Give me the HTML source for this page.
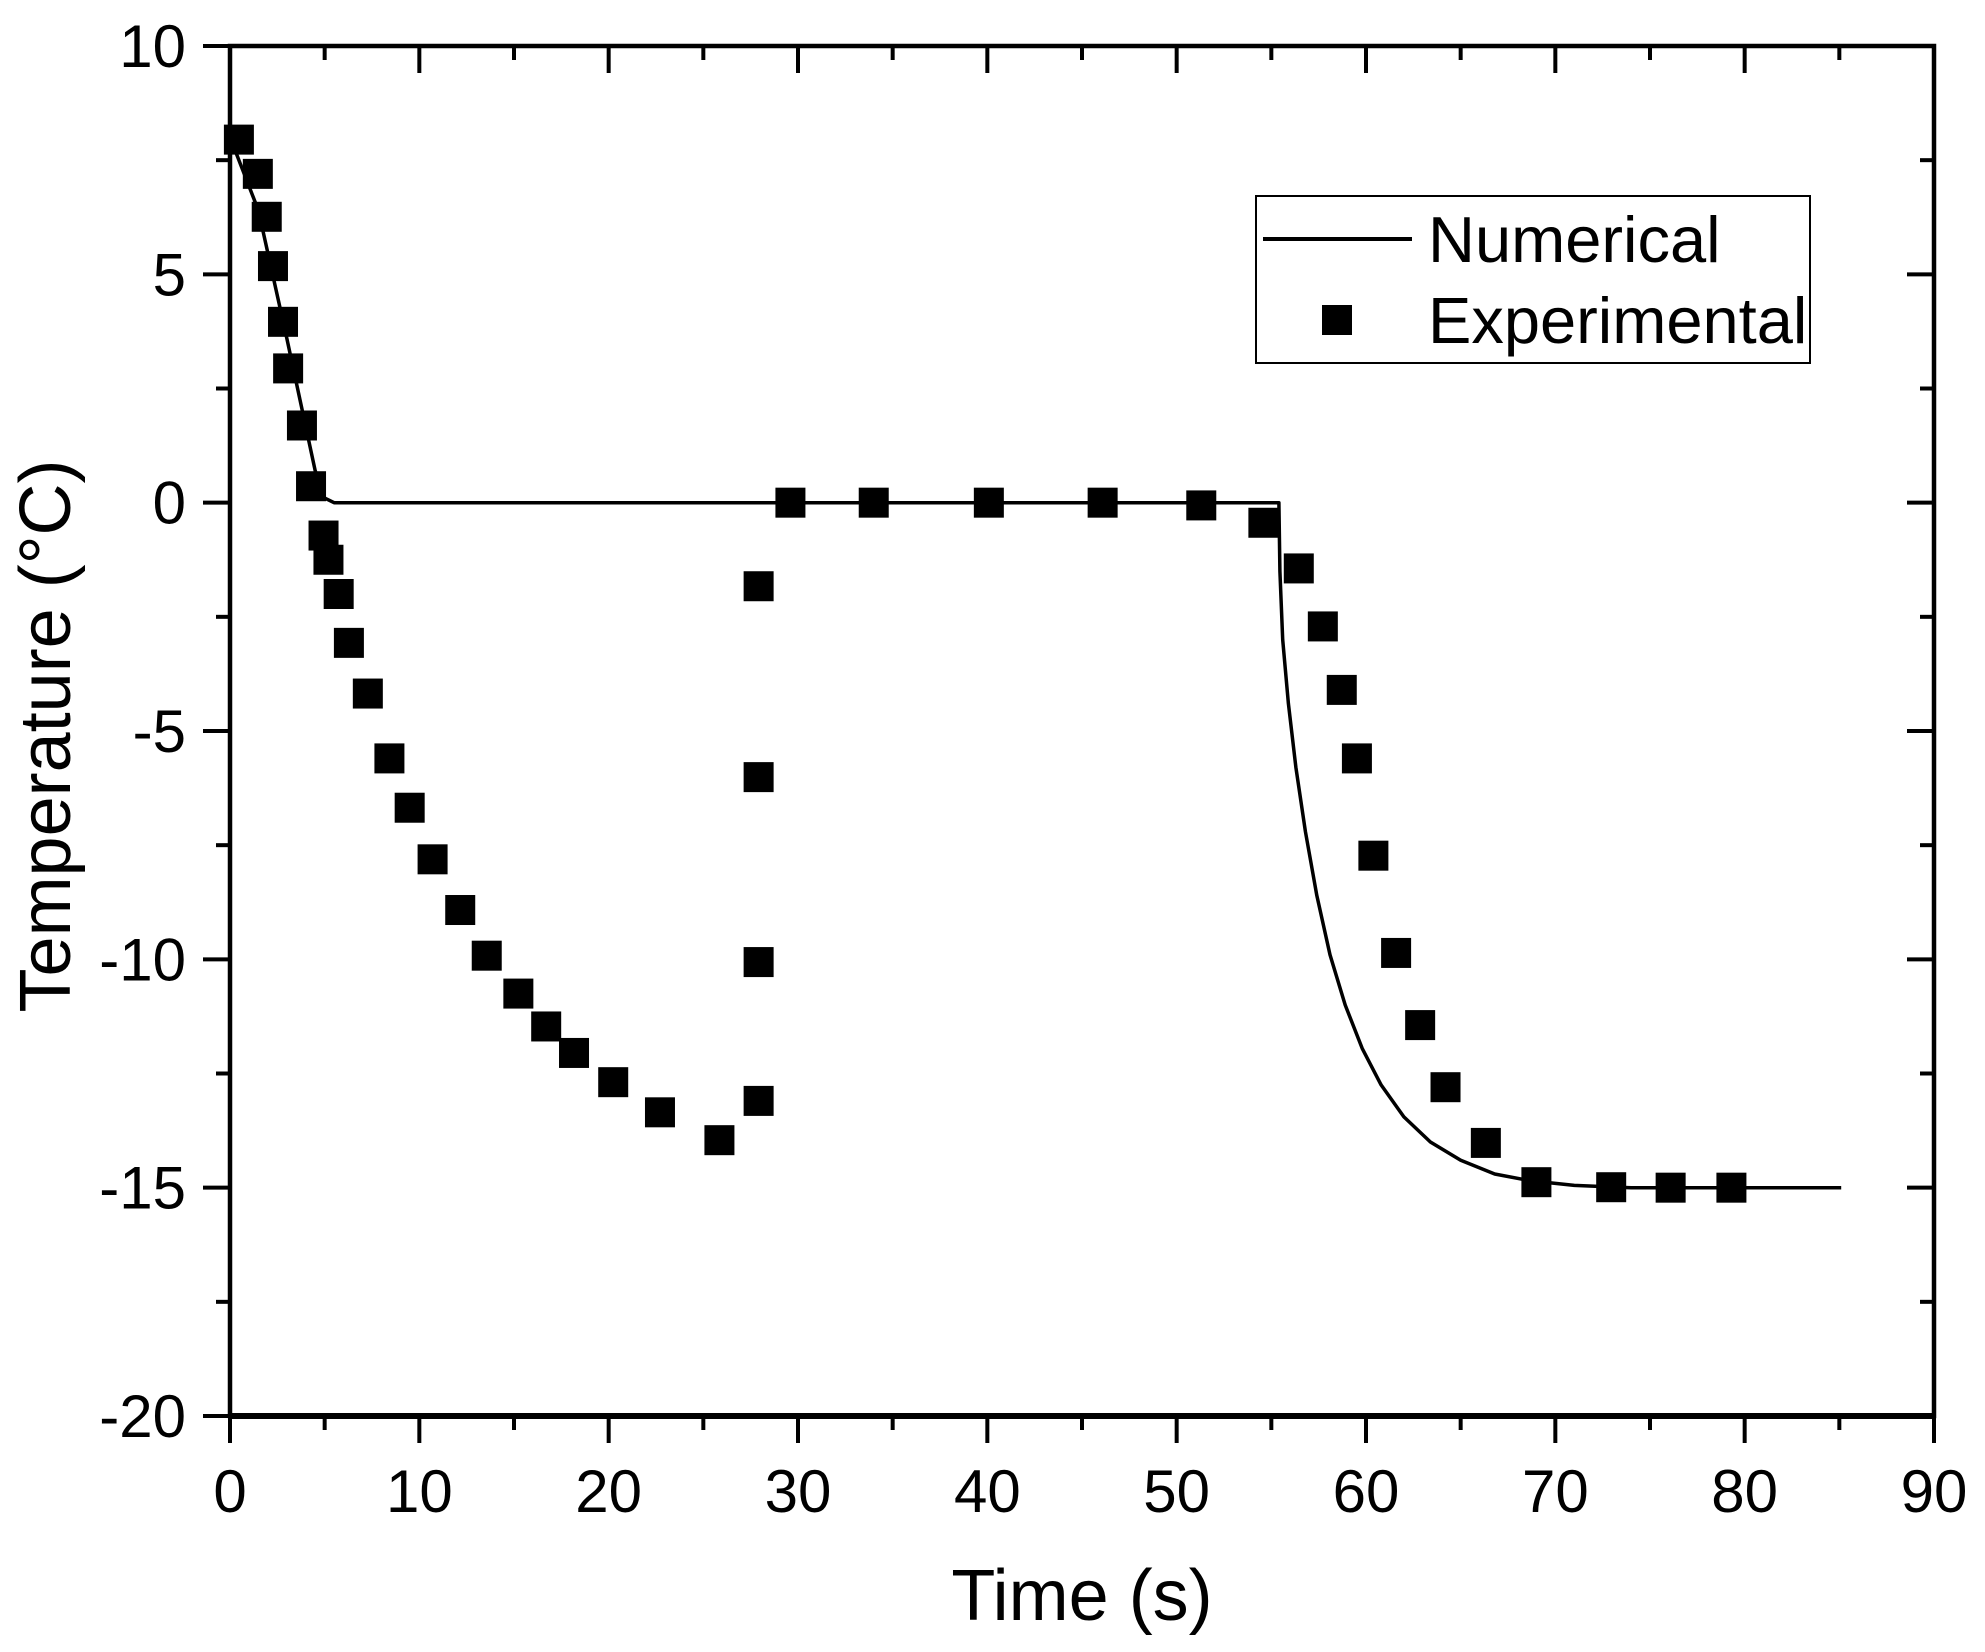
<!DOCTYPE html>
<html><head><meta charset="utf-8"><style>
html,body{margin:0;padding:0;background:#fff;}
svg{display:block;font-family:"Liberation Sans",Arial,sans-serif;}
</style></head><body>
<svg id="chart" width="1985" height="1652" viewBox="0 0 1985 1652" xmlns="http://www.w3.org/2000/svg">
<rect width="1985" height="1652" fill="#fff"/>
<g id="marks"></g>
<g id="axes"></g>
</svg>
<script>
const xTicks=[0,10,20,30,40,50,60,70,80,90];
const yTicks=[10,5,0,-5,-10,-15,-20];
const numT=[0,1.5,3,4.5,5,5.5,55.4,55.45,55.6,55.9,56.3,56.8,57.4,58.1,58.9,59.8,60.8,62.0,63.4,65.0,66.8,68.7,71.0,74.0,85.1];
const numV=[8,6.4,3.6,0.7,0.1,0,0,-1.5,-3.0,-4.4,-5.8,-7.2,-8.6,-9.9,-11.0,-11.95,-12.75,-13.45,-14.0,-14.4,-14.7,-14.85,-14.95,-15,-15];
const expT=[0.47,1.47,1.94,2.27,2.8,3.07,3.8,4.28,4.94,5.2,5.74,6.28,7.28,8.42,9.49,10.7,12.16,13.56,15.23,16.7,18.17,20.24,22.71,25.85,27.92,27.92,27.92,27.92,29.6,34.0,40.08,46.09,51.3,54.58,56.45,57.72,58.72,59.52,60.39,61.59,62.86,64.2,66.33,69.0,72.95,76.09,79.3];
const expV=[7.95,7.2,6.26,5.18,3.96,2.94,1.69,0.36,-0.72,-1.25,-2.0,-3.07,-4.18,-5.6,-6.68,-7.81,-8.92,-9.92,-10.75,-11.47,-12.05,-12.69,-13.35,-13.96,-13.1,-10.06,-6.01,-1.83,0,0,0,0,-0.06,-0.44,-1.44,-2.71,-4.1,-5.6,-7.73,-9.86,-11.44,-12.8,-14.02,-14.88,-14.99,-15,-15];

const X0=230,X1=1934,Y0=1416,Y1=46;
const xs=t=>X0+(t-0)/90*(X1-X0);
const ys=v=>Y0-(v+20)/30*(Y0-Y1);
const NS="http://www.w3.org/2000/svg";
function mk(tag,attrs,parent){const e=document.createElementNS(NS,tag);for(const k in attrs)e.setAttribute(k,attrs[k]);parent.appendChild(e);return e;}
const marks=document.getElementById('marks'),axes=document.getElementById('axes');

let d='';numT.forEach((t,i)=>{d+=(i?'L':'M')+xs(t).toFixed(1)+' '+ys(numV[i]).toFixed(1);});
const line=mk('path',{d:d,fill:'none',stroke:'#000','stroke-width':3.5,'stroke-linejoin':'round'},marks);


expT.forEach((t,i)=>{
  const r=mk('rect',{x:xs(t)-15,y:ys(expV[i])-15,width:30,height:30,fill:'#000'},marks);
  
  
});

const frame=mk('rect',{x:X0,y:Y1,width:X1-X0,height:Y0-Y1,fill:'none',stroke:'#000','stroke-width':4.5},axes);


mk('line',{x1:X0-2,y1:Y0,x2:X1+2,y2:Y0,stroke:'#000','stroke-width':6},axes);

for(let t=0;t<=90;t+=5){
  const major=t%10===0, L=major?27:14, x=xs(t);
  mk('line',{x1:x,y1:Y0,x2:x,y2:Y0+L,stroke:'#000','stroke-width':4},axes);
  mk('line',{x1:x,y1:Y1,x2:x,y2:Y1+L,stroke:'#000','stroke-width':4},axes);
}
for(let v=-20;v<=10;v+=2.5){
  const major=v%5===0, L=major?27:14, y=ys(v);
  mk('line',{x1:X0,y1:y,x2:X0-L,y2:y,stroke:'#000','stroke-width':4},axes);
  mk('line',{x1:X1,y1:y,x2:X1-L,y2:y,stroke:'#000','stroke-width':4},axes);
}
xTicks.forEach(t=>{
  const e=mk('text',{x:xs(t),y:1512,'font-size':60,'text-anchor':'middle'},axes);e.textContent=t;
  
  
});
yTicks.forEach(v=>{
  const e=mk('text',{x:186,y:ys(v)+21,'font-size':60,'text-anchor':'end'},axes);e.textContent=v;
  
  
});
const xt=mk('text',{x:1082,y:1620,'font-size':72,'text-anchor':'middle'},axes);xt.textContent='Time (s)';


const yt=mk('text',{x:0,y:0,'font-size':72,'text-anchor':'middle',transform:'translate(70,736) rotate(-90)'},axes);yt.textContent='Temperature (°C)';



const lg=mk('g',{},axes);


mk('rect',{x:1256,y:196,width:554,height:167,fill:'#fff',stroke:'#000','stroke-width':2},lg);
mk('line',{x1:1263,y1:239,x2:1412,y2:239,stroke:'#000','stroke-width':4},lg);
mk('rect',{x:1322,y:305,width:30,height:30,fill:'#000'},lg);
const l1=mk('text',{x:1428,y:262,'font-size':65},lg);l1.textContent='Numerical';


const l2=mk('text',{x:1428,y:343,'font-size':65},lg);l2.textContent='Experimental';


</script>
</body></html>
